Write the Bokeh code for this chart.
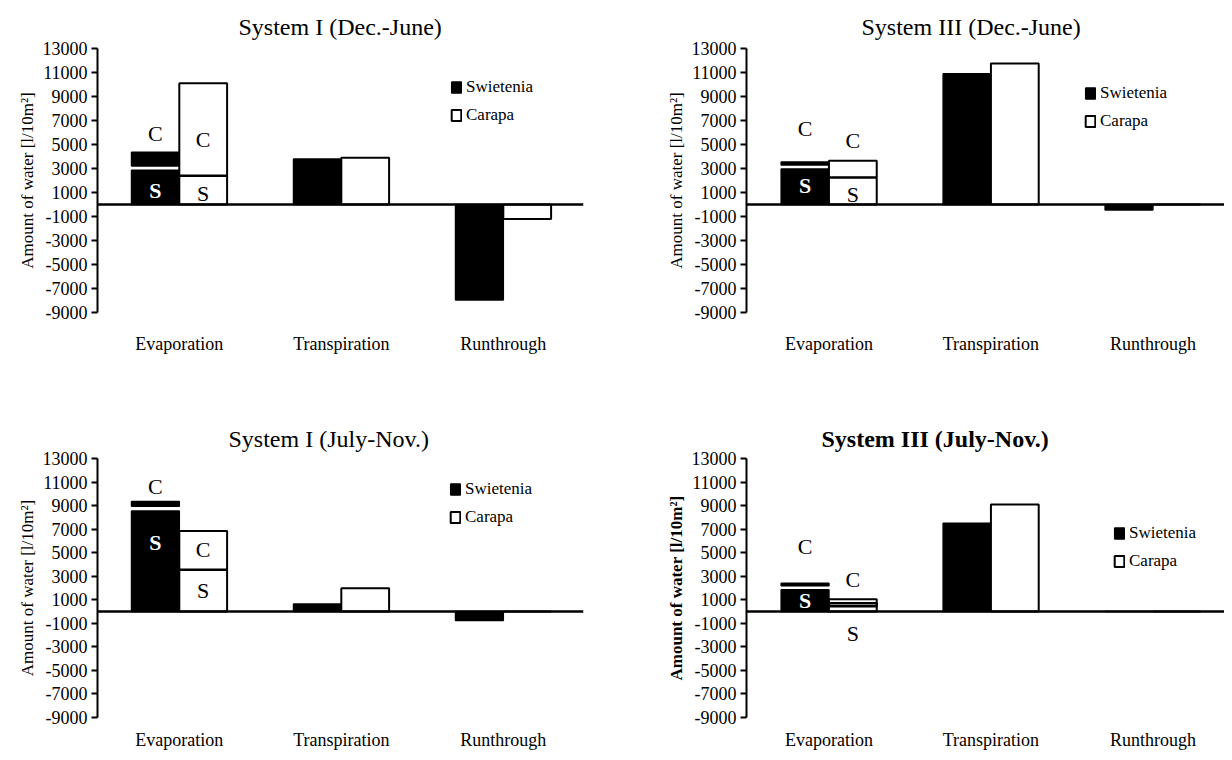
from bokeh.plotting import figure
from bokeh.layouts import column, row
from bokeh.models import Range1d, FixedTicker, Span, Legend, LegendItem, ColumnDataSource
from bokeh.core.properties import value
from bokeh.embed import file_html
from bokeh.resources import INLINE

# ---------------- data ----------------
categories = ["Evaporation", "Transpiration", "Runthrough"]
species = ["Swietenia", "Carapa"]
titles = ["System I (Dec.-June)", "System III (Dec.-June)",
          "System I (July-Nov.)", "System III (July-Nov.)"]
y_ticks = [13000, 11000, 9000, 7000, 5000, 3000, 1000,
           -1000, -3000, -5000, -7000, -9000]
y_tick_labels = ["13000", "11000", "9000", "7000", "5000", "3000", "1000",
                 "-1000", "-3000", "-5000", "-7000", "-9000"]
y_label = "Amount of water [l/10m²]"

# evaporation, split into an S part (bottom) and a C part (top), per panel
evap_s_top_sw = [2850, 2950, 8550, 1850]
evap_c_bottom_sw = [3200, 3300, 8950, 2200]
evap_total_sw = [4350, 3550, 9350, 2400]
evap_s_top_ca = [2400, 2250, 3550, 450]
evap_c_bottom_ca = [2400, 2250, 3550, 700]
evap_total_ca = [10100, 3650, 6850, 1050]

transp_sw = [3800, 10900, 640, 7500]
transp_ca = [3900, 11750, 1980, 9100]
runthrough_sw = [-7950, -450, -750, 0]
runthrough_ca = [-1200, 0, 0, 0]

# positions (in data units) of the "C" / "S" letters
label_c_sw_y = [5900, 6300, 10650, 5500]
label_s_sw_y = [1200, 1550, 5860, 900]
label_c_ca_y = [5400, 5300, 5300, 2700]
label_s_ca_y = [950, 860, 1750, -1870]

# ---------------- style / layout ----------------
FONT = "Liberation Serif"
BAR_W = 0.295
OFF = BAR_W / 2
UNIT = 162  # px per category

layout_cfg = [
    dict(w=616, h=416, bl=97, bt=48, bb=104, xs=-0.505, xe=2.495, toff=141, tst=18, leg=(353, 187), xstand=15, bold=False),
    dict(w=608, h=416, bl=130, bt=48, bb=104, xs=-0.509, xe=2.442, toff=115, tst=18, leg=(338, 181), xstand=15, bold=False),
    dict(w=616, h=336, bl=97, bt=40, bb=32, xs=-0.505, xe=2.495, toff=131, tst=14, leg=(352, 190), xstand=6, bold=False),
    dict(w=608, h=336, bl=130, bt=40, bb=32, xs=-0.509, xe=2.442, toff=75, tst=14, leg=(367, 146), xstand=6, bold=True),
]


def make_panel(i):
    cfg = layout_cfg[i]
    frame_w = int(round((cfg["xe"] - cfg["xs"]) * UNIT))
    p = figure(width=cfg["w"], height=cfg["h"], output_backend="svg", toolbar_location=None,
               x_range=Range1d(cfg["xs"], cfg["xe"]), y_range=Range1d(-9000, 13000),
               min_border_left=cfg["bl"], min_border_right=max(cfg["w"] - cfg["bl"] - frame_w, 0),
               min_border_top=cfg["bt"], min_border_bottom=cfg["bb"],
               title=titles[i])
    p.title.text_font = FONT
    p.title.text_font_size = "24px"
    p.title.text_color = "black"
    p.title.text_font_style = "bold" if cfg["bold"] else "normal"
    p.title.align = "left"
    p.title.offset = cfg["toff"]
    p.title.standoff = cfg["tst"]
    p.outline_line_color = None
    p.xgrid.visible = False
    p.ygrid.visible = False
    p.background_fill_color = "white"
    p.border_fill_color = "white"

    # y axis
    yax = p.yaxis[0]
    yax.ticker = FixedTicker(ticks=y_ticks)
    yax.major_label_overrides = {t: s for t, s in zip(y_ticks, y_tick_labels)}
    yax.minor_tick_line_color = None
    yax.major_tick_in = 0
    yax.major_tick_out = 6
    yax.major_tick_line_width = 2
    yax.axis_line_width = 2
    yax.major_label_standoff = 4
    yax.major_label_text_font = FONT
    yax.major_label_text_font_size = "18px"
    yax.major_label_text_color = "black"
    yax.axis_label = y_label
    yax.axis_label_text_font = FONT
    yax.axis_label_text_font_size = "17px"
    yax.axis_label_text_color = "black"
    yax.axis_label_text_font_style = "bold" if cfg["bold"] else "normal"
    yax.axis_label_standoff = 3

    # x axis (category labels only)
    xax = p.xaxis[0]
    xax.ticker = FixedTicker(ticks=[0, 1, 2])
    xax.major_label_overrides = {k: c for k, c in enumerate(categories)}
    xax.axis_line_color = None
    xax.major_tick_line_color = None
    xax.minor_tick_line_color = None
    xax.major_label_standoff = cfg["xstand"]
    xax.major_label_text_font = FONT
    xax.major_label_text_font_size = "18px"
    xax.major_label_text_color = "black"

    # evaporation, stacked S / C
    p.vbar(x=[0 - OFF], width=BAR_W, bottom=0, top=[evap_s_top_sw[i]],
           fill_color="black", line_color="black", line_width=1.5)
    p.vbar(x=[0 - OFF], width=BAR_W, bottom=[evap_c_bottom_sw[i]], top=[evap_total_sw[i]],
           fill_color="black", line_color="black", line_width=1.5)
    p.vbar(x=[0 + OFF], width=BAR_W, bottom=0, top=[evap_total_ca[i]],
           fill_color="white", line_color="black", line_width=2)
    p.vbar(x=[0 + OFF], width=BAR_W, bottom=[evap_s_top_ca[i]], top=[evap_c_bottom_ca[i]],
           fill_color="white", line_color="black", line_width=2.5)

    # transpiration and runthrough
    r_sw = p.vbar(x=[1 - OFF, 2 - OFF], width=BAR_W, bottom=0, top=[transp_sw[i], runthrough_sw[i]],
                  fill_color="black", line_color="black", line_width=1.5)
    r_ca = p.vbar(x=[1 + OFF, 2 + OFF], width=BAR_W, bottom=0, top=[transp_ca[i], runthrough_ca[i]],
                  fill_color="white", line_color="black", line_width=2)

    # zero line
    p.add_layout(Span(location=0, dimension="width", line_color="black", line_width=2.5))

    # S / C letters
    src = ColumnDataSource(dict(
        x=[0 - OFF, 0 - OFF, 0 + OFF, 0 + OFF],
        y=[label_c_sw_y[i], label_s_sw_y[i], label_c_ca_y[i], label_s_ca_y[i]],
        t=["C", "S", "C", "S"],
        c=["black", "white", "black", "black"],
        s=["normal", "bold", "normal", "normal"],
    ))
    p.text(x="x", y="y", text="t", text_color="c", text_font_style="s", source=src,
           text_align="center", text_baseline="middle",
           text_font=value(FONT), text_font_size=value("22px"))

    legend = Legend(items=[LegendItem(label=species[0], renderers=[r_sw]),
                           LegendItem(label=species[1], renderers=[r_ca])],
                    location=cfg["leg"], orientation="vertical",
                    glyph_width=12, glyph_height=14, label_standoff=4, spacing=8,
                    padding=0, margin=0, border_line_alpha=0, background_fill_alpha=0,
                    label_text_font=FONT, label_text_font_size="17px", label_text_color="black",
                    label_height=19)
    p.add_layout(legend, "center")
    return p


panels = [make_panel(i) for i in range(4)]
layout = column(row(panels[0], panels[1]), row(panels[2], panels[3]))

open("out.html", "w").write(file_html(layout, INLINE))
